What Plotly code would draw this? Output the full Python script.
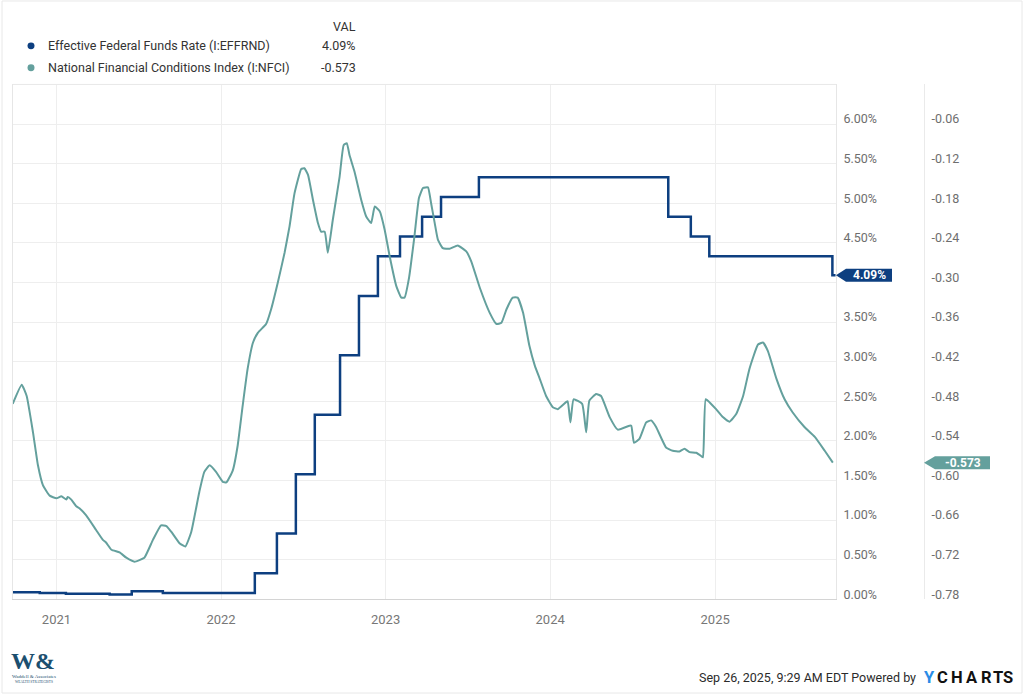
import plotly.graph_objects as go

W, H = 1024, 696

# ---------------- data ----------------
effr_dates = ['2020-09-26', '2020-11-25', '2021-01-22', '2021-04-29', '2021-06-17', '2021-08-25',
              '2022-03-17', '2022-05-05', '2022-06-16', '2022-07-28', '2022-09-22', '2022-11-03',
              '2022-12-15', '2023-02-02', '2023-03-23', '2023-05-04', '2023-07-27', '2024-09-19',
              '2024-11-08', '2024-12-19', '2025-09-18', '2025-09-25']
effr_vals = [0.09, 0.08, 0.07, 0.06, 0.10, 0.08,
             0.33, 0.83, 1.58, 2.33, 3.08, 3.83,
             4.33, 4.58, 4.83, 5.08, 5.33, 4.83,
             4.58, 4.33, 4.09, 4.09]

nfci_dates = ['2020-09-26', '2020-10-16', '2020-10-27', '2020-11-10', '2020-11-21', '2020-12-02',
              '2020-12-17', '2021-01-01', '2021-01-12', '2021-01-23', '2021-01-26', '2021-02-03',
              '2021-02-14', '2021-02-21', '2021-03-08', '2021-03-30', '2021-04-14', '2021-04-21',
              '2021-05-03', '2021-05-21', '2021-06-05', '2021-06-23', '2021-07-15', '2021-08-03',
              '2021-08-21', '2021-09-02', '2021-09-13', '2021-10-01', '2021-10-14', '2021-10-27',
              '2021-11-14', '2021-11-25', '2021-12-07', '2021-12-21', '2022-01-05', '2022-01-13',
              '2022-01-27', '2022-02-07', '2022-02-18', '2022-03-01', '2022-03-13', '2022-03-24',
              '2022-04-11', '2022-04-22', '2022-05-07', '2022-05-22', '2022-06-02', '2022-06-13',
              '2022-06-28', '2022-07-05', '2022-07-13', '2022-07-24', '2022-08-04', '2022-08-11',
              '2022-08-19', '2022-08-26', '2022-09-06', '2022-09-21', '2022-09-30', '2022-10-07',
              '2022-10-13', '2022-10-24', '2022-11-08', '2022-11-19', '2022-11-30', '2022-12-08',
              '2022-12-19', '2022-12-30', '2023-01-10', '2023-01-25', '2023-02-05', '2023-02-12',
              '2023-02-22', '2023-03-06', '2023-03-16', '2023-03-25', '2023-04-05', '2023-04-12',
              '2023-04-20', '2023-04-27', '2023-05-08', '2023-05-23', '2023-06-10', '2023-06-29',
              '2023-07-10', '2023-07-29', '2023-08-20', '2023-09-04', '2023-09-15', '2023-09-26',
              '2023-10-10', '2023-10-21', '2023-11-02', '2023-11-16', '2023-11-28', '2023-12-09',
              '2023-12-23', '2024-01-07', '2024-01-18', '2024-02-06', '2024-02-09', '2024-02-15',
              '2024-02-22', '2024-03-12', '2024-03-21', '2024-03-28', '2024-04-12', '2024-04-23',
              '2024-05-12', '2024-05-30', '2024-06-25', '2024-06-29', '2024-07-05', '2024-07-17',
              '2024-08-01', '2024-08-12', '2024-08-23', '2024-09-14', '2024-09-29', '2024-10-14',
              '2024-10-25', '2024-11-05', '2024-11-20', '2024-12-01', '2024-12-05', '2024-12-11',
              '2024-12-23', '2025-01-03', '2025-01-18', '2025-02-02', '2025-02-17', '2025-03-04',
              '2025-03-18', '2025-04-06', '2025-04-17', '2025-04-28', '2025-05-17', '2025-06-04',
              '2025-06-22', '2025-07-18', '2025-08-10', '2025-09-01', '2025-09-19']
nfci_vals = [-0.484, -0.455, -0.472, -0.527, -0.577, -0.607,
             -0.623, -0.627, -0.624, -0.629, -0.625, -0.629,
             -0.639, -0.642, -0.653, -0.675, -0.690, -0.694,
             -0.705, -0.709, -0.717, -0.723, -0.717, -0.690,
             -0.668, -0.669, -0.678, -0.695, -0.700, -0.678,
             -0.617, -0.587, -0.577, -0.587, -0.602, -0.603,
             -0.585, -0.547, -0.487, -0.431, -0.391, -0.376,
             -0.363, -0.341, -0.300, -0.255, -0.215, -0.165,
             -0.128, -0.127, -0.137, -0.175, -0.210, -0.223,
             -0.223, -0.255, -0.205, -0.140, -0.092, -0.089,
             -0.107, -0.132, -0.175, -0.200, -0.210, -0.185,
             -0.192, -0.220, -0.260, -0.306, -0.323, -0.323,
             -0.293, -0.230, -0.172, -0.157, -0.156, -0.180,
             -0.210, -0.235, -0.248, -0.249, -0.244, -0.253,
             -0.268, -0.308, -0.346, -0.363, -0.361, -0.341,
             -0.323, -0.323, -0.346, -0.396, -0.426, -0.446,
             -0.472, -0.489, -0.492, -0.481, -0.480, -0.512,
             -0.477, -0.484, -0.527, -0.479, -0.469, -0.472,
             -0.504, -0.523, -0.517, -0.517, -0.543, -0.537,
             -0.512, -0.509, -0.519, -0.550, -0.555, -0.556,
             -0.552, -0.557, -0.558, -0.563, -0.565, -0.477,
             -0.484, -0.492, -0.504, -0.511, -0.499, -0.472,
             -0.431, -0.394, -0.391, -0.404, -0.446, -0.477,
             -0.497, -0.519, -0.534, -0.555, -0.573]

series_names = ['Effective Federal Funds Rate (I:EFFRND)', 'National Financial Conditions Index (I:NFCI)']
series_last = ['4.09%', '-0.573']
series_colors = ['#0d3f80', '#64a09d']
last_effr = 4.09
last_nfci = -0.573

x_range = ['2020-09-26', '2025-09-26']
y_range = [0, 6.5]
y_ticks = [0.0, 0.5, 1.0, 1.5, 2.0, 2.5, 3.0, 3.5, 4.0, 4.5, 5.0, 5.5, 6.0]
y_ticktext = ['0.00%', '0.50%', '1.00%', '1.50%', '2.00%', '2.50%', '3.00%', '3.50%', '', '4.50%', '5.00%', '5.50%', '6.00%']
y2_range = [-0.78, 0.0]
y2_ticks = [-0.78, -0.72, -0.66, -0.60, -0.54, -0.48, -0.42, -0.36, -0.30, -0.24, -0.18, -0.12, -0.06]
y2_ticktext = ['-0.78', '-0.72', '-0.66', '-0.60', '-0.54', '-0.48', '-0.42', '-0.36', '-0.30', '-0.24', '-0.18', '-0.12', '-0.06']


def px(x):
    return x / W


def py(y):
    return 1 - y / H


X0, X1 = 12.7, 836.0
Y0, Y1 = 84.7, 601.0
Y2POS = 924.0

fig = go.Figure()
fig.add_trace(go.Scatter(x=effr_dates, y=effr_vals, mode='lines', line=dict(color=series_colors[0], width=2.5, shape='hv'),
                         name=series_names[0], yaxis='y'))
fig.add_trace(go.Scatter(x=nfci_dates, y=nfci_vals, mode='lines', line=dict(color=series_colors[1], width=2, shape='spline', smoothing=0.4),
                         name=series_names[1], yaxis='y2'))

grid = '#eeeeee'
tickfont = dict(family='Roboto', size=12.5, color='#6e6e6e')

fig.update_layout(
    width=W, height=H, autosize=False,
    margin=dict(l=0, r=0, t=0, b=0),
    paper_bgcolor='white', plot_bgcolor='white',
    showlegend=False,
    xaxis=dict(domain=[px(X0), px(X1)], type='date', range=x_range,
               tick0='2021-01-01', dtick='M12', tickformat='%Y',
               showgrid=True, gridcolor=grid, gridwidth=1,
               showline=True, linecolor='#d4d4d4', linewidth=1,
               ticks='', tickfont=dict(family='Roboto', size=13, color='#777777'),
               ticklabelstandoff=8, zeroline=False),
    yaxis=dict(domain=[py(Y1), py(Y0)], range=y_range, side='right',
               tickvals=y_ticks, ticktext=y_ticktext,
               showgrid=True, gridcolor=grid, gridwidth=1,
               showline=True, linecolor='#e6e6e6', mirror=True,
               zeroline=False, ticks='', tickfont=tickfont,
               ticklabelstandoff=4, ticklabelshift=-5),
    yaxis2=dict(overlaying='y', range=y2_range, side='right', anchor='free', position=px(Y2POS),
                tickvals=y2_ticks, ticktext=y2_ticktext,
                showgrid=False, showline=True, linecolor='#eaeaea',
                zeroline=False, ticks='', tickfont=tickfont,
                ticklabelstandoff=4, ticklabelshift=-5),
)

shapes = []
# plot top border
shapes.append(dict(type='line', xref='paper', yref='paper', x0=px(X0), x1=px(X1), y0=py(Y0), y1=py(Y0),
                   line=dict(color='#e8e8e8', width=1)))
# outer frame
shapes.append(dict(type='rect', xref='paper', yref='paper', x0=px(2), x1=px(1022), y0=py(695), y1=py(1),
                   line=dict(color='#e8e8e8', width=1)))
# legend markers
for i, yy in enumerate([46, 68]):
    shapes.append(dict(type='circle', xref='paper', yref='paper', x0=px(27.5), x1=px(34.5),
                       y0=py(yy + 3.5), y1=py(yy - 3.5), fillcolor=series_colors[i], line=dict(width=0)))
# last-value flags
shapes.append(dict(type='path', xref='paper', yref='y', xsizemode='pixel', ysizemode='pixel',
                   xanchor=px(X1), yanchor=last_effr,
                   path='M 0,0 L 10,6.5 L 56,6.5 L 56,-6.5 L 10,-6.5 Z',
                   fillcolor=series_colors[0], line=dict(width=0)))
shapes.append(dict(type='path', xref='paper', yref='y2', xsizemode='pixel', ysizemode='pixel',
                   xanchor=px(Y2POS), yanchor=last_nfci,
                   path='M 0,0 L 11,6.5 L 66,6.5 L 66,-6.5 L 11,-6.5 Z',
                   fillcolor=series_colors[1], line=dict(width=0)))
fig.update_layout(shapes=shapes)

ann = []
lf = dict(family='Roboto', size=12.5, color='#333333')
ann.append(dict(xref='paper', yref='paper', x=px(358), y=py(27), text='VAL', showarrow=False,
                xanchor='right', yanchor='middle', font=lf))
for i, yy in enumerate([46, 68]):
    ann.append(dict(xref='paper', yref='paper', x=px(46), y=py(yy), text=series_names[i], showarrow=False,
                    xanchor='left', yanchor='middle', font=lf))
    ann.append(dict(xref='paper', yref='paper', x=px(358), y=py(yy), text=series_last[i], showarrow=False,
                    xanchor='right', yanchor='middle', font=lf))
# flag texts
ann.append(dict(xref='paper', yref='y', x=px(X1 + 33), y=last_effr, text='<b>4.09%</b>', showarrow=False,
                xanchor='center', yanchor='middle', font=dict(family='Roboto', size=12, color='white')))
ann.append(dict(xref='paper', yref='y2', x=px(Y2POS + 39), y=last_nfci, text='<b>-0.573</b>', showarrow=False,
                xanchor='center', yanchor='middle', font=dict(family='Roboto', size=12, color='white')))
# footer
ann.append(dict(xref='paper', yref='paper', x=px(918), y=py(679), text='Sep 26, 2025, 9:29 AM EDT Powered by',
                showarrow=False, xanchor='right', yanchor='middle',
                font=dict(family='Roboto', size=12.5, color='#2b2b2b')))
for ch, cx in zip('YCHARTS', [929, 942.5, 957, 971.5, 986.5, 998, 1008]):
    ann.append(dict(xref='paper', yref='paper', x=px(cx), y=py(679), text='<b>%s</b>' % ch, showarrow=False,
                    xanchor='center', yanchor='middle',
                    font=dict(family='Roboto', size=16.5, color='#2a8ce6' if ch == 'Y' else '#111111')))
# logo
ann.append(dict(xref='paper', yref='paper', x=px(33), y=py(663), text='<b>W&amp;</b>', showarrow=False,
                xanchor='center', yanchor='middle',
                font=dict(family='Liberation Serif', size=24, color='#1c4f6f')))
ann.append(dict(xref='paper', yref='paper', x=px(34), y=py(678), text='Waddell &amp; Associates', showarrow=False,
                xanchor='center', yanchor='middle',
                font=dict(family='Liberation Serif', size=5, color='#1c4f6f')))
ann.append(dict(xref='paper', yref='paper', x=px(34), y=py(684), text='WEALTH STRATEGISTS', showarrow=False,
                xanchor='center', yanchor='middle',
                font=dict(family='Liberation Serif', size=3.5, color='#1c4f6f')))
fig.update_layout(annotations=ann)

fig.write_html('out.html', config={'displayModeBar': False, 'responsive': False},
               post_script="document.body.style.margin='0';document.body.style.overflow='hidden';")
